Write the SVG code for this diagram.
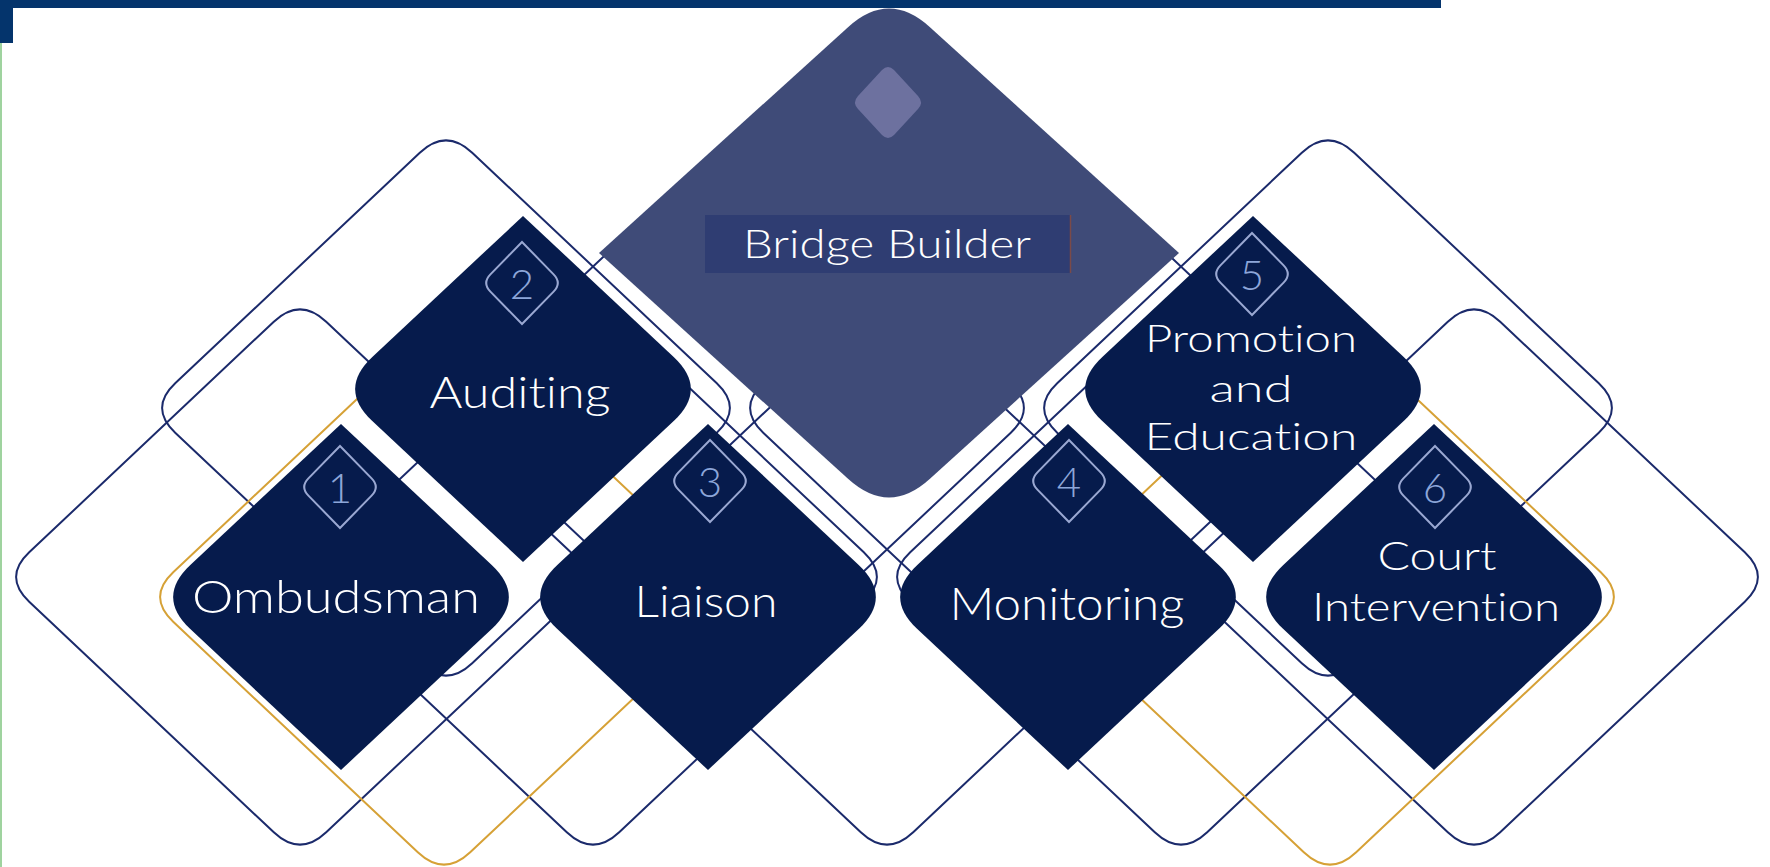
<svg xmlns="http://www.w3.org/2000/svg" width="1770" height="867" viewBox="0 0 1770 867">
  <style>
    .ring{fill:none;stroke:#1b2a6b;stroke-width:2}
    .gold{stroke:#d6a136}
    .tile{fill:#061b4c}
    .badge{fill:none;stroke:#9aa8d2;stroke-width:2}
    .num{font-family:Lato,"Liberation Sans",sans-serif;font-weight:300;font-size:42px;fill:#8da6d9;text-anchor:middle}
    .label{font-family:Lato,"Liberation Sans",sans-serif;font-weight:300;fill:#ffffff;text-anchor:middle;font-variant-ligatures:none}
  </style>
  <defs>
    <!-- large rounded frame diamond, centred on the origin -->
    <path id="ring" d="M26.2 -255.3 L270.8 -24.7 Q297 0 270.8 24.7 L26.2 255.3 Q0 280 -26.2 255.3 L-270.8 24.7 Q-297 0 -270.8 -24.7 L-26.2 -255.3 Q0 -280 26.2 -255.3 Z"/>
    <!-- filled step tile: soft side corners, sharp top and bottom -->
    <path id="tile" d="M0 -173 L150.7 -32.1 Q185 0 150.7 32.1 L0 173 L-150.7 32.1 Q-185 0 -150.7 -32.1 Z"/>
    <!-- small number badge -->
    <path id="badge" d="M0 -41 L31.6 -8.6 Q40 0 31.6 8.6 L0 41 L-31.6 8.6 Q-40 0 -31.6 -8.6 Z"/>
  </defs>

  <rect width="1770" height="867" fill="#ffffff"/>

  <!-- header bar and left edge -->
  <rect x="0" y="0" width="1441" height="8" fill="#04346c"/>
  <rect x="0" y="0" width="13" height="43" fill="#04346c"/>
  <rect x="0" y="43" width="2" height="824" fill="#9fd39f"/>

  <!-- background frame lattice -->
  <g id="connectors">
    <use href="#ring" class="ring" x="446" y="408"/>
    <use href="#ring" class="ring" x="740" y="408"/>
    <use href="#ring" class="ring" x="1034" y="408"/>
    <use href="#ring" class="ring" x="1328" y="408"/>
    <use href="#ring" class="ring" x="300" y="577"/>
    <use href="#ring" class="ring" x="593" y="577"/>
    <use href="#ring" class="ring" x="887" y="577"/>
    <use href="#ring" class="ring" x="1181" y="577"/>
    <use href="#ring" class="ring" x="1474" y="577"/>
    <use href="#ring" class="ring gold" x="444" y="597"/>
    <use href="#ring" class="ring gold" x="1330" y="597"/>
  </g>

  <!-- central role -->
  <g id="bridge-builder">
    <path d="M929.7 26.9 L1179 253 L929.7 479.1 Q889 516 848.3 479.1 L599 253 L848.3 26.9 Q889 -10 929.7 26.9 Z" fill="#3f4b78"/>
    <path d="M894 70 L918 96 Q924 102.5 918 109 L894 135 Q888 141 882 135 L858 109 Q852 102.5 858 96 L882 70 Q888 64 894 70 Z" fill="#6d719f"/>
    <rect x="705" y="215" width="366" height="58" fill="#2f3d72"/>
    <line x1="1070.5" y1="215" x2="1070.5" y2="273" stroke="#7b4a48" stroke-width="1.5"/>
    <text class="label" x="887" y="258" font-size="39" textLength="288" lengthAdjust="spacingAndGlyphs">Bridge Builder</text>
  </g>

  <g id="auditing">
    <use href="#tile" class="tile" x="523" y="389"/>
    <use href="#badge" class="badge" x="522" y="283"/>
    <text class="num" x="522" y="299">2</text>
    <text class="label" x="520" y="408" font-size="43" textLength="181" lengthAdjust="spacingAndGlyphs">Auditing</text>
  </g>

  <g id="promotion-education">
    <use href="#tile" class="tile" x="1253" y="389"/>
    <use href="#badge" class="badge" x="1252" y="274"/>
    <text class="num" x="1252" y="290">5</text>
    <text class="label" x="1251" y="352" font-size="37" textLength="212" lengthAdjust="spacingAndGlyphs">Promotion</text>
    <text class="label" x="1251" y="402" font-size="37" textLength="83" lengthAdjust="spacingAndGlyphs">and</text>
    <text class="label" x="1251" y="450" font-size="37" textLength="213" lengthAdjust="spacingAndGlyphs">Education</text>
  </g>

  <g id="ombudsman">
    <use href="#tile" class="tile" x="341" y="597"/>
    <use href="#badge" class="badge" x="340" y="487"/>
    <text class="num" x="340" y="503">1</text>
    <text class="label" x="336" y="613" font-size="46" textLength="288" lengthAdjust="spacingAndGlyphs">Ombudsman</text>
  </g>

  <g id="liaison">
    <use href="#tile" class="tile" x="708" y="597"/>
    <use href="#badge" class="badge" x="710" y="481"/>
    <text class="num" x="710" y="497">3</text>
    <text class="label" x="706" y="617" font-size="44" textLength="143" lengthAdjust="spacingAndGlyphs">Liaison</text>
  </g>

  <g id="monitoring">
    <use href="#tile" class="tile" x="1068" y="597"/>
    <use href="#badge" class="badge" x="1069" y="481"/>
    <text class="num" x="1069" y="497">4</text>
    <text class="label" x="1067" y="620" font-size="46" textLength="235" lengthAdjust="spacingAndGlyphs">Monitoring</text>
  </g>

  <g id="court-intervention">
    <use href="#tile" class="tile" x="1434" y="597"/>
    <use href="#badge" class="badge" x="1435" y="487"/>
    <text class="num" x="1435" y="503">6</text>
    <text class="label" x="1437" y="570" font-size="40" textLength="119" lengthAdjust="spacingAndGlyphs">Court</text>
    <text class="label" x="1436" y="621" font-size="40" textLength="248" lengthAdjust="spacingAndGlyphs">Intervention</text>
  </g>
</svg>
